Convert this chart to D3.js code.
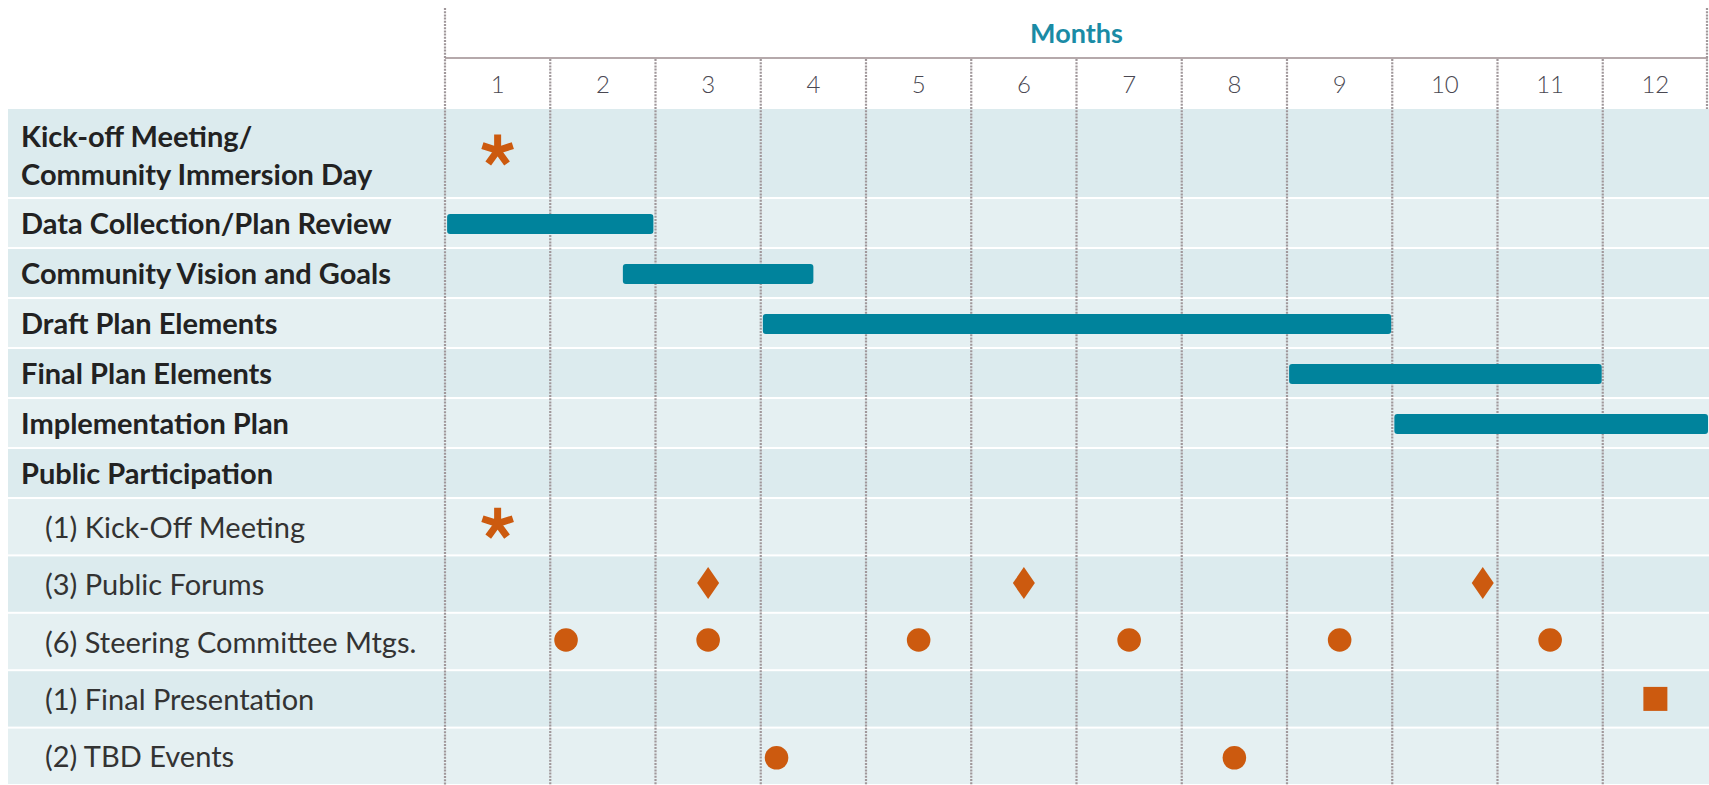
<!DOCTYPE html>
<html><head><meta charset="utf-8">
<script src="https://cdn.jsdelivr.net/npm/d3@7"></script>
<style>body{margin:0;background:#fff;overflow:hidden}</style>
</head><body>
<svg id="chart" width="1709" height="785"></svg>
<script>
// ---------- data ----------
const months = [1,2,3,4,5,6,7,8,9,10,11,12];
const axisTitle = "Months";
const rowLabels = [
  ["Kick-off Meeting/", "Community Immersion Day"],
  ["Data Collection/Plan Review"],
  ["Community Vision and Goals"],
  ["Draft Plan Elements"],
  ["Final Plan Elements"],
  ["Implementation Plan"],
  ["Public Participation"],
  ["(1) Kick-Off Meeting"],
  ["(3) Public Forums"],
  ["(6) Steering Committee Mtgs."],
  ["(1) Final Presentation"],
  ["(2) TBD Events"]
];
const rowIsSub = [false,false,false,false,false,false,false,true,true,true,true,true];
// task bars (in months elapsed from project start)
const barRows  = [1, 2, 3, 4, 5];
const barStart = [0.02, 1.69, 3.02, 8.02, 9.02];
const barEnd   = [1.98, 3.50, 8.99, 10.99, 12.0];
// events (month number, centre of month = integer)
const kickoffDay        = [1];
const kickoffMeeting    = [1];
const publicForums      = [3, 6, 10.36];
const steeringMtgs      = [1.65, 3, 5, 7, 9, 11];
const finalPresentation = [12];
const tbdEvents         = [3.65, 8];

// ---------- layout ----------
const W = 1709, H = 785;
const chartLeft = 445, chartRight = 1708;
const rowsTop = 109;
const rowHeights = [89,50,50,50,50,50,50,57.4,57.4,57.4,57.4,57.4];
const rowTops = [];
rowHeights.reduce((acc,h)=>{rowTops.push(acc); return acc+h;}, rowsTop);
const rowCenter = i => rowTops[i] + rowHeights[i]/2;

const COL_TEAL = "#00839c", COL_ORANGE = "#cc5a0f", COL_GRID = "#a0979a";
const COL_ROW_A = "#dcebee", COL_ROW_B = "#e5f0f2";

const svg = d3.select("#chart");
const x = d3.scaleLinear().domain([0,12]).range([chartLeft, chartRight]);
const band = d3.scaleBand().domain(months).range([chartLeft, chartRight]);
const xm = m => x(m - 0.5);

// rows
svg.append("g").selectAll("rect").data(rowLabels).join("rect")
  .attr("x", 8).attr("width", W - 8)
  .attr("y", (d,i)=> rowTops[i] + (i===0?0:1))
  .attr("height", (d,i)=> rowHeights[i] - (i===0?1:2))
  .attr("fill", (d,i)=> i%2===0 ? COL_ROW_A : COL_ROW_B);

// header line
svg.append("line").attr("x1", chartLeft).attr("x2", chartRight)
  .attr("y1", 58).attr("y2", 58).attr("stroke", "#9c8c8f").attr("stroke-width", 1.5);

// grid lines
const grid = svg.append("g").attr("stroke", COL_GRID).attr("stroke-width", 2.2)
  .attr("stroke-dasharray", "2,1.2");
grid.append("line").attr("x1", x(0)).attr("x2", x(0)).attr("y1", 8).attr("y2", H);
grid.selectAll("line.m").data(months.slice(1)).join("line").attr("class","m")
  .attr("x1", d=>band(d)).attr("x2", d=>band(d)).attr("y1", 59).attr("y2", H);
grid.append("line").attr("x1", x(12)-1).attr("x2", x(12)-1).attr("y1", 8).attr("y2", rowsTop);

// axis title
svg.append("text").attr("x", (chartLeft+chartRight)/2).attr("y", 43)
  .attr("text-anchor","middle").attr("fill","#1a8ba5")
  .style("font-family","Lato, 'Open Sans', sans-serif").style("font-weight",700)
  .style("font-size","27px").text(axisTitle);

// month tick labels
const ax = svg.append("g").attr("transform","translate(0,93)")
  .call(d3.axisTop(band).tickSize(0).tickPadding(0));
ax.select(".domain").remove();
ax.selectAll("text").attr("fill","#4a4852")
  .style("font-family","Lato, 'Open Sans', sans-serif").style("font-weight",300)
  .style("font-size","24px");

// row labels
const lab = svg.append("g").style("font-family","Lato, 'Open Sans', sans-serif");
rowLabels.forEach((lines,i)=>{
  const t = lab.append("text")
    .attr("x", rowIsSub[i] ? 45 : 21)
    .attr("fill", rowIsSub[i] ? "#333" : "#222")
    .style("font-weight", rowIsSub[i] ? 400 : 700)
    .style("font-size", "29px");
  if (lines.length === 1) {
    t.attr("y", rowCenter(i) + 11).text(lines[0]);
  } else {
    lines.forEach((s,k)=> t.append("tspan").attr("x", 21)
      .attr("y", rowCenter(i) - 7 + k*38.6).text(s));
  }
});

// bars
svg.append("g").selectAll("rect").data(barRows).join("rect")
  .attr("x", (d,i)=> x(barStart[i]))
  .attr("width", (d,i)=> x(barEnd[i]) - x(barStart[i]))
  .attr("y", d=> rowCenter(d) + 1 - 10).attr("height", 20)
  .attr("rx", 3).attr("fill", COL_TEAL);

// markers
const mk = svg.append("g").attr("fill", COL_ORANGE);
function asteriskPath(r){
  const p = d3.path();
  for (let k=0;k<5;k++){
    const a = -Math.PI/2 + k*2*Math.PI/5;
    p.moveTo(0,0); p.lineTo(r*Math.cos(a), r*Math.sin(a));
  }
  return p.toString();
}
function drawAsterisks(data,row){
  mk.selectAll(null).data(data).join("path")
    .attr("d", asteriskPath(16))
    .attr("transform", d=>`translate(${xm(d)},${rowCenter(row)-3})`)
    .attr("fill","none").attr("stroke",COL_ORANGE).attr("stroke-width",7);
}
drawAsterisks(kickoffDay, 0);
drawAsterisks(kickoffMeeting, 7);
mk.selectAll(null).data(publicForums).join("path")
  .attr("d","M0,-16L11,0L0,16L-11,0Z")
  .attr("transform", d=>`translate(${xm(d)},${rowCenter(8)-1})`);
mk.selectAll(null).data(steeringMtgs).join("circle")
  .attr("cx", d=>xm(d)).attr("cy", rowCenter(9)-1.5).attr("r", 11.8);
mk.selectAll(null).data(finalPresentation).join("rect")
  .attr("x", d=>xm(d)-12).attr("y", rowCenter(10)-12).attr("width",24).attr("height",24);
mk.selectAll(null).data(tbdEvents).join("circle")
  .attr("cx", d=>xm(d)).attr("cy", rowCenter(11)+1.5).attr("r", 11.8);
</script>
</body></html>
